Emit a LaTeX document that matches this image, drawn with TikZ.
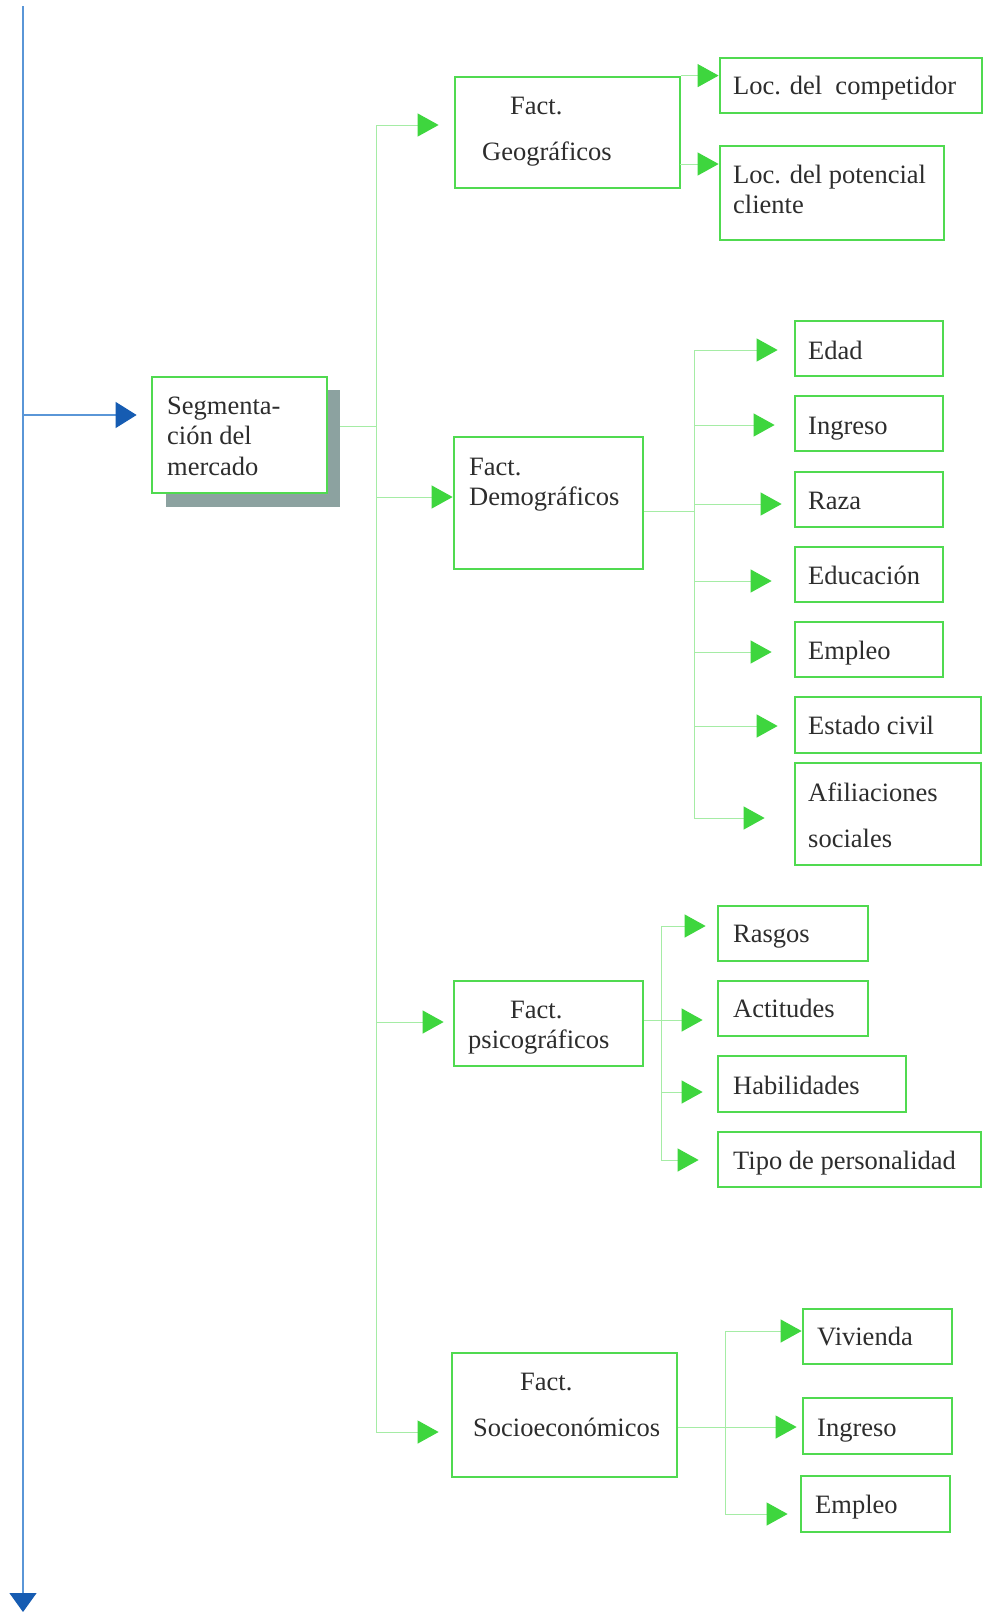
\documentclass[tikz,border=0pt]{standalone}
\usepackage{fontspec}
\setmainfont{Liberation Serif}
\usetikzlibrary{arrows.meta,fit}

\definecolor{boxgreen}{RGB}{80,218,80}
\definecolor{linkgreen}{RGB}{165,236,165}
\definecolor{headgreen}{RGB}{62,214,62}
\definecolor{shadowgray}{RGB}{140,162,160}
\definecolor{flowblue}{RGB}{90,150,215}
\definecolor{headblue}{RGB}{22,92,178}
\definecolor{inkgray}{RGB}{45,45,45}

% rectangle node spanning two corners
\newcommand\mybox[5]{\node[box, fit={(#2,#3)(#4,#5)}] (#1) {};}

\begin{document}
\begin{tikzpicture}[x=1pt,y=-1pt,
  box/.style={draw=boxgreen, line width=2.8pt, fill=white, inner sep=0pt},
  link/.style={draw=linkgreen, line width=1pt},
  arr/.style={link, -{Triangle[length=21pt,width=23pt,fill=headgreen,color=headgreen]}},
  flow/.style={draw=flowblue, line width=1.2pt},
  lbl/.style={anchor=base west, inner sep=0pt, font=\fontsize{26.5}{30}\selectfont, text=inkgray}]

\useasboundingbox[fill=white] (0,0) rectangle (986,1612);

% ---- main flow line (blue) ----
\coordinate (btop) at (23,6);
\coordinate (bbot) at (23,1612);
\coordinate (bj) at (23,415);
\draw[flow, -{Triangle[length=19pt,width=27pt,fill=headblue,color=headblue]}] (btop) -- (bbot);

% ---- root box with shadow ----
\node[fill=shadowgray, inner sep=0pt, fit={(166,390)(340,507)}] (segshadow) {};
\mybox{seg}{152}{377}{327}{493}
\node[lbl] (segt1) at (167,414) {Segmenta-};
\node[lbl] (segt2) at (167,444) {ción del};
\node[lbl] (segt3) at (167,475) {mercado};
\draw[flow, shorten >=14pt, -{Triangle[length=21pt,width=26pt,fill=headblue,color=headblue]}] (bj) -- (bj -| seg.west);

% ---- main green trunk ----
\coordinate (t0) at (376,125);
\coordinate (t1) at (376,1432);
\coordinate (tseg) at (376,426);
\coordinate (tdemo) at (376,497);
\coordinate (tpsico) at (376,1022);
\draw[link] (t0) -- (t1);
\draw[link] (segshadow.east |- tseg) -- (tseg);

% ---- first level boxes ----
\mybox{geo}{455}{77}{680}{188}
\node[lbl] (geot1) at (510,114) {Fact.};
\node[lbl] (geot2) at (482,160) {Geográficos};

\mybox{demo}{454}{437}{643}{569}
\node[lbl] (demot1) at (469,475) {Fact.};
\node[lbl] (demot2) at (469,505) {Demográficos};

\mybox{psico}{454}{981}{643}{1066}
\node[lbl] (psicot1) at (510,1018) {Fact.};
\node[lbl] (psicot2) at (468,1048) {psicográficos};

\mybox{socio}{452}{1353}{677}{1477}
\node[lbl] (sociot1) at (520,1390) {Fact.};
\node[lbl] (sociot2) at (473,1436) {Socioeconómicos};

\draw[arr, shorten >=15pt] (t0) -- (t0 -| geo.west);
\draw[arr] (tdemo) -- (tdemo -| demo.west);
\draw[arr, shorten >=9pt] (tpsico) -- (tpsico -| psico.west);
\draw[arr, shorten >=12pt] (t1) -- (t1 -| socio.west);

% ---- geographic factors ----
\mybox{comp}{720}{58}{982}{113}
\node[lbl] (compt) at (733,94) {Loc. del\ \ competidor};
\mybox{pot}{720}{146}{944}{240}
\node[lbl] (pott1) at (733,183) {Loc. del potencial};
\node[lbl] (pott2) at (733,213) {cliente};
\coordinate (gb) at (680,164);
\draw[arr] (geo.north east) -- (geo.north east -| comp.west);
\draw[arr] (gb) -- (gb -| pot.west);

% ---- demographic factors ----
\coordinate (dj) at (694,511);
\coordinate (d0) at (694,350);
\coordinate (d1) at (694,425);
\coordinate (d2) at (694,504);
\coordinate (d3) at (694,581);
\coordinate (d4) at (694,652);
\coordinate (d5) at (694,726);
\coordinate (d6) at (694,818);
\draw[link] (demo.east |- dj) -- (dj);
\draw[link] (d0) -- (d6);

\mybox{edad}{795}{321}{943}{376}
\node[lbl] (edadt) at (808,359) {Edad};
\mybox{ingreso}{795}{396}{943}{451}
\node[lbl] (ingresot) at (808,434) {Ingreso};
\mybox{raza}{795}{472}{943}{527}
\node[lbl] (razat) at (808,509) {Raza};
\mybox{educ}{795}{547}{943}{602}
\node[lbl] (euct) at (808,584) {Educación};
\mybox{empleo}{795}{622}{943}{677}
\node[lbl] (empleot) at (808,659) {Empleo};
\mybox{civil}{795}{697}{981}{753}
\node[lbl] (civilt) at (808,734) {Estado civil};
\mybox{afil}{795}{763}{981}{865}
\node[lbl] (afilt1) at (808,801) {Afiliaciones};
\node[lbl] (afilt2) at (808,847) {sociales};

\draw[arr, shorten >=16pt] (d0) -- (d0 -| edad.west);
\draw[arr, shorten >=19pt] (d1) -- (d1 -| ingreso.west);
\draw[arr, shorten >=12pt] (d2) -- (d2 -| raza.west);
\draw[arr, shorten >=22pt] (d3) -- (d3 -| educ.west);
\draw[arr, shorten >=22pt] (d4) -- (d4 -| empleo.west);
\draw[arr, shorten >=16pt] (d5) -- (d5 -| civil.west);
\draw[arr, shorten >=29pt] (d6) -- (d6 -| afil.west);

% ---- psychographic factors ----
\coordinate (p0) at (661,926);
\coordinate (p1) at (661,1020);
\coordinate (p2) at (661,1092);
\coordinate (p3) at (661,1160);
\draw[link] (psico.east |- p1) -- (p1);
\draw[link] (p0) -- (p3);

\mybox{rasgos}{718}{906}{868}{961}
\node[lbl] (rasgost) at (733,942) {Rasgos};
\mybox{actit}{718}{981}{868}{1036}
\node[lbl] (actitt) at (733,1017) {Actitudes};
\mybox{habil}{718}{1056}{906}{1112}
\node[lbl] (habilt) at (733,1094) {Habilidades};
\mybox{tipo}{718}{1132}{981}{1187}
\node[lbl] (tipot) at (733,1169) {Tipo de personalidad};

\draw[arr, shorten >=11pt] (p0) -- (p0 -| rasgos.west);
\draw[arr, shorten >=14pt] (p1) -- (p1 -| actit.west);
\draw[arr, shorten >=14pt] (p2) -- (p2 -| habil.west);
\draw[arr, shorten >=18pt] (p3) -- (p3 -| tipo.west);

% ---- socioeconomic factors ----
\coordinate (s0) at (725,1331);
\coordinate (s1) at (725,1427);
\coordinate (s2) at (725,1514);
\draw[link] (socio.east |- s1) -- (s1);
\draw[link] (s0) -- (s2);

\mybox{viv}{803}{1309}{952}{1364}
\node[lbl] (vivt) at (817,1345) {Vivienda};
\mybox{ingreso2}{803}{1398}{952}{1454}
\node[lbl] (ingreso2t) at (817,1436) {Ingreso};
\mybox{empleo2}{801}{1476}{950}{1532}
\node[lbl] (empleo2t) at (815,1513) {Empleo};

\draw[arr] (s0) -- (s0 -| viv.west);
\draw[arr, shorten >=5pt] (s1) -- (s1 -| ingreso2.west);
\draw[arr, shorten >=12pt] (s2) -- (s2 -| empleo2.west);

\end{tikzpicture}
\end{document}
